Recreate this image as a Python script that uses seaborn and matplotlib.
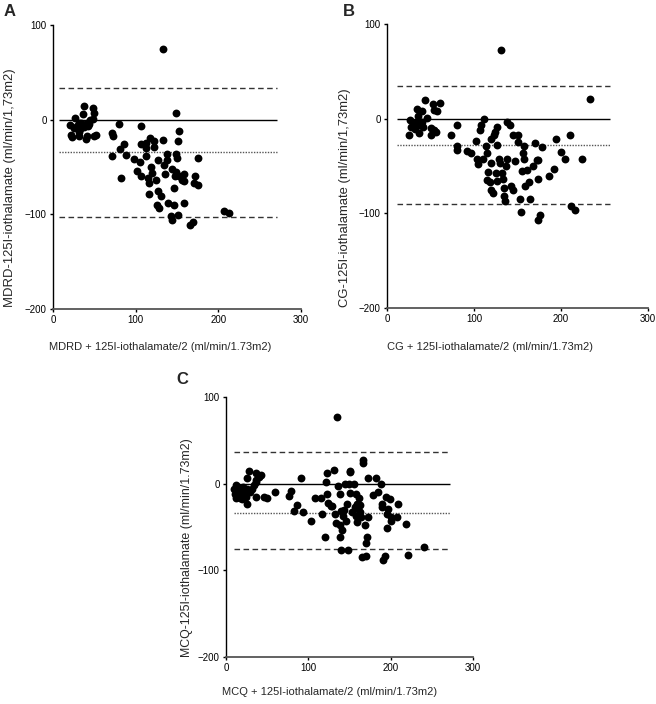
import numpy as np
import pandas as pd
import matplotlib
matplotlib.use("Agg")
import matplotlib.pyplot as plt
import seaborn as sns

# ---------------- data ----------------
mdrd_x = [20, 22, 23, 27, 29, 32, 32, 33, 36, 37, 35, 38, 40, 41, 42, 44, 45, 48, 48, 50, 49, 52, 34, 32, 26, 41,
          71, 73, 71, 80, 81, 82, 86, 88, 98, 102, 105, 107, 106, 107, 112, 113, 113, 115, 116, 116, 117, 118, 120,
          122, 122, 125, 126, 127, 127, 128, 131, 133, 133, 134, 136, 138, 138, 139, 143, 144, 144, 146, 146, 147,
          149, 149, 150, 151, 153, 151, 153, 156, 158, 159, 159, 166, 169, 172, 170, 175, 176, 207, 213, 149]
mdrd_y = [-6, -16, -18, 2, -7, -13, -17, -10, 6, 14, -6, -8, -20, -17, -7, -5, 0, 1, 12, 7, -17, -16, -3, -4, -9, -3,
          -14, -17, -38, -5, -31, -62, -26, -37, -42, -54, -45, -7, -26, -60, -25, -30, -38, -62, -67, -79, -19, -50,
          -56, -29, -23, -64, -90, -43, -75, -93, -81, -21, 75, -48, -57, -43, -36, -88, -102, -106, -52, -72, -90,
          -59, 7, -36, -40, -23, -12, -101, -60, -64, -88, -57, -65, -111, -108, -60, -67, -40, -69, -96, -99, -55]
mdrd_lines = [0, -34, 33, -103]   # zero, mean, upper, lower

cg_x = [25, 27, 28, 31, 32, 33, 35, 36, 37, 38, 40, 41, 44, 46, 51, 51, 53, 54, 54, 58, 56, 61, 34, 40,
        74, 80, 81, 81, 92, 97, 102, 104, 105, 107, 108, 111, 110, 114, 115, 115, 116, 118, 119, 120, 120, 122,
        123, 124, 125, 127, 127, 127, 129, 130, 131, 132, 133, 134, 135, 136, 137, 138, 138, 141, 143, 145, 145,
        147, 150, 151, 153, 154, 155, 156, 157, 158, 159, 161, 163, 164, 168, 170, 172, 173, 173, 174, 176, 178,
        186, 192, 194, 200, 205, 210, 212, 216, 224, 233]
cg_y = [-17, -1, -9, -5, -11, -3, 10, 3, -15, -7, 8, -9, 20, 1, -10, -17, 16, -12, 9, 8, -14, 17, -5, -4,
        -17, -7, -29, -33, -34, -36, -24, -43, -48, -12, -7, 0, -43, -29, -36, -65, -56, -67, -75, -22, -47, -79,
        -17, -14, -57, -28, -9, -66, -43, -47, 73, -57, -64, -73, -82, -87, -50, -43, -3, -7, -71, -75, -17,
        -45, -17, -25, -85, -99, -55, -36, -43, -29, -71, -54, -67, -85, -50, -26, -44, -64, -44, -107, -102, -30,
        -61, -53, -21, -35, -43, -17, -92, -97, -43, 21]
cg_lines = [0, -28, 35, -90]

mcq_x = [10, 12, 12, 14, 15, 16, 18, 19, 21, 22, 24, 25, 26, 26, 28, 29, 31, 34, 36, 37, 37, 37, 40, 42, 46, 50,
         60, 11, 17, 23,
         76, 79, 82, 86, 91, 93, 103, 108, 115, 117, 120, 122, 123, 123, 124, 127, 129, 131, 132, 134, 135, 136,
         138, 138, 139, 140, 140, 141, 142, 143, 144, 146, 147, 148, 149, 151, 151, 151, 153, 155, 157, 158, 158,
         159, 159, 160, 161, 163, 163, 164, 165, 167, 167, 169, 170, 170, 171, 173, 173, 178, 182, 185, 188, 189,
         190, 191, 193, 194, 195, 196, 197, 199, 200, 201, 208, 209, 219, 221, 240]
mcq_y = [-6, -2, -17, -10, -4, -13, -8, -18, -4, -12, -15, -6, 6, -23, 15, -10, -6, -2, 4, 12, 2, -15, 8, 10, -15,
         -17, -10, -12, -17, -10,
         -14, -8, -31, -25, 6, -33, -43, -17, -17, -35, -61, 2, 12, -12, -22, -26, -26, 16, -35, -45, 77, -3,
         -48, -12, -62, -32, -77, -53, -37, -30, 0, -43, -24, -76, 0, 15, 13, -11, -33, 0, -27, -37, -12,
         -23, -44, -29, -17, -33, -25, -38, -85, 27, 24, -48, -68, -84, -61, 7, -38, -13, 7, -10, 0, -27,
         -24, -88, -83, -15, -35, -51, -29, -18, -39, -43, -38, -24, -46, -82, -73]
mcq_lines = [0, -34, 36, -75]

panels = [
    dict(letter="A", x=mdrd_x, y=mdrd_y, lines=mdrd_lines, xr=(7, 271),
         ylabel="MDRD-125I-iothalamate (ml/min/1,73m2)",
         xlabel="MDRD + 125I-iothalamate/2 (ml/min/1.73m2)"),
    dict(letter="B", x=cg_x, y=cg_y, lines=cg_lines, xr=(11, 256),
         ylabel="CG-125I-iothalamate (ml/min/1,73m2)",
         xlabel="CG + 125I-iothalamate/2 (ml/min/1.73m2)"),
    dict(letter="C", x=mcq_x, y=mcq_y, lines=mcq_lines, xr=(10, 272),
         ylabel="MCQ-125I-iothalamate (ml/min/1.73m2)",
         xlabel="MCQ + 125I-iothalamate/2 (ml/min/1.73m2)"),
]

# ---------------- figure ----------------
sns.set_theme(style="ticks")
plt.rcParams["font.family"] = ["Liberation Sans", "DejaVu Sans"]

W, H = 656, 704
fig = plt.figure(figsize=(W / 100, H / 100), dpi=100)

# axes rectangles in pixel coordinates: left, top, right, bottom
rects = [(53, 25, 301, 309), (387, 24, 648, 308), (226, 397, 473, 657)]
letter_pos = [(4, 12), (343, 12), (176, 379)]
xlabel_pos = [(160, 347), (490, 347), (330, 692)]
ylabel_pos = [(10, 188), (345, 198), (187, 548)]
ylabel_size = [9.4, 9.4, 8.9]

for p, (l, t, r, b), lp, xp, yp, ys in zip(panels, rects, letter_pos, xlabel_pos, ylabel_pos, ylabel_size):
    ax = fig.add_axes([l / W, 1 - b / H, (r - l) / W, (b - t) / H])
    df = pd.DataFrame({"x": p["x"], "y": p["y"]})
    sns.scatterplot(data=df, x="x", y="y", ax=ax, color="black", s=32,
                    edgecolor="black", linewidth=0, zorder=3)
    zero, mean, upper, lower = p["lines"]
    x0, x1 = p["xr"]
    ax.hlines(zero, x0, x1, colors="black", linewidth=1.0, zorder=2)
    ax.hlines(mean, x0, x1, colors="#555555", linewidth=1.0, linestyles=(0, (1, 1)), zorder=2)
    ax.hlines([upper, lower], x0, x1, colors="#333333", linewidth=1.0, linestyles=(0, (4, 2.5)), zorder=2)

    ax.set_xlim(0, 300)
    ax.set_ylim(-200, 100)
    ax.set_xticks([0, 100, 200, 300])
    ax.set_yticks([-200, -100, 0, 100])
    ax.tick_params(labelsize=7, length=2.5, width=1, pad=2, colors="black")
    ax.set_xlabel("")
    ax.set_ylabel("")
    ax.patch.set_alpha(0)
    for side in ["top", "right"]:
        ax.spines[side].set_visible(False)
    ax.spines["left"].set_color("black")
    ax.spines["left"].set_linewidth(1.0)
    ax.spines["bottom"].set_color("#555555")
    ax.spines["bottom"].set_linewidth(1.3)

    fig.text(lp[0] / W, 1 - lp[1] / H, p["letter"], fontsize=12, fontweight="bold",
             ha="left", va="center")
    fig.text(xp[0] / W, 1 - xp[1] / H, p["xlabel"], fontsize=8, ha="center", va="center")
    fig.text(yp[0] / W, 1 - yp[1] / H, p["ylabel"], fontsize=ys, ha="center", va="center",
             rotation=90)

fig.savefig("out.png", dpi=100)
